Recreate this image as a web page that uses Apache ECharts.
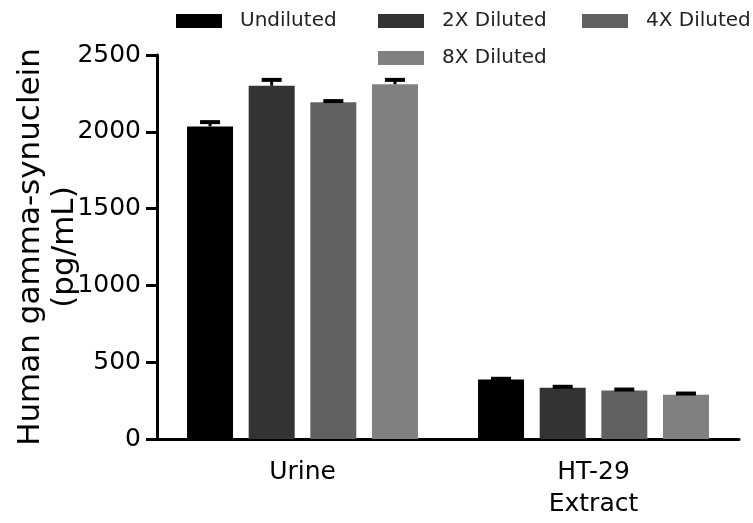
<!DOCTYPE html>
<html><head><meta charset="utf-8">
<script src="https://cdn.jsdelivr.net/npm/echarts@6/dist/echarts.min.js"></script>
<style>html,body{margin:0;padding:0;background:#fff}#c{width:753px;height:523px}</style>
</head><body><div id="c"></div>
<script>
const categories = ['Urine', 'HT-29\nExtract'];
const seriesNames = ['Undiluted', '2X Diluted', '4X Diluted', '8X Diluted'];
const undiluted = [2035, 388];
const diluted2x = [2300, 333];
const diluted4x = [2192, 316];
const diluted8x = [2310, 288];
const undilutedErr = [28, 4];
const diluted2xErr = [38, 7];
const diluted4xErr = [8, 6];
const diluted8xErr = [28, 8];
const yTicks = [0, 500, 1000, 1500, 2000, 2500];

const values = [undiluted, diluted2x, diluted4x, diluted8x];
const errors = [undilutedErr, diluted2xErr, diluted4xErr, diluted8xErr];
const colors = ['#000000', '#333333', '#616161', '#808080'];
const BAR_W = 46, BAR_GAP = 0.34;
const FONT = 'DejaVu Sans';

const chart = echarts.init(document.getElementById('c'));
const series = [];
seriesNames.forEach((name, i) => {
  series.push({
    name, type: 'bar', data: values[i], barWidth: BAR_W, barGap: (BAR_GAP * 100) + '%',
    itemStyle: { color: colors[i] }
  });
});
seriesNames.forEach((name, i) => {
  series.push({
    type: 'custom', name: name, z: 5,
    data: values[i].map((v, c) => [c, v, v + errors[i][c]]),
    renderItem: function (params, api) {
      const c = api.value(0);
      const step = BAR_W * (1 + BAR_GAP);
      const base = api.coord([c, api.value(1)]);
      const top = api.coord([c, api.value(2)]);
      const x = base[0] + (i - 1.5) * step;
      return {
        type: 'group',
        children: [
          { type: 'line', shape: { x1: x, y1: base[1], x2: x, y2: top[1] }, style: { stroke: '#000', lineWidth: 3 } },
          { type: 'line', shape: { x1: x - 10, y1: top[1], x2: x + 10, y2: top[1] }, style: { stroke: '#000', lineWidth: 4 } }
        ]
      };
    }
  });
});

const legendText = { fontFamily: FONT, fontSize: 20, color: '#222', padding: [0, 0, 0, 13] };
const legendPos = [[176, 11], [378, 11], [582, 11], [378, 48]];
const legends = seriesNames.map((n, i) => ({
  data: [n], left: legendPos[i][0], top: legendPos[i][1], icon: 'rect',
  itemWidth: 46, itemHeight: 14, textStyle: legendText, padding: 0
}));

chart.setOption({
  animation: false,
  grid: { left: 157, right: 14, top: 55, bottom: 84, containLabel: false, outerBoundsMode: 'none' },
  legend: legends,
  xAxis: {
    type: 'category', data: categories,
    axisLine: { lineStyle: { color: '#000', width: 3 } },
    axisTick: { alignWithLabel: true, length: 11, lineStyle: { color: '#000', width: 3 } },
    axisLabel: { fontFamily: FONT, fontSize: 25, color: '#000', margin: 17, lineHeight: 32 }
  },
  yAxis: {
    type: 'value', min: yTicks[0], max: yTicks[yTicks.length - 1], interval: 500,
    name: 'Human gamma-synuclein\n(pg/mL)', nameLocation: 'middle', nameGap: 75, nameMoveOverlap: false,
    nameTextStyle: { fontFamily: FONT, fontSize: 31, color: '#000', lineHeight: 34 },
    splitLine: { show: false },
    axisLine: { show: true, lineStyle: { color: '#000', width: 3 } },
    axisTick: { show: true, length: 11, lineStyle: { color: '#000', width: 3 } },
    axisLabel: { fontFamily: FONT, fontSize: 25, color: '#000', margin: 16, formatter: v => String(v) }
  },
  series
});
</script></body></html>
